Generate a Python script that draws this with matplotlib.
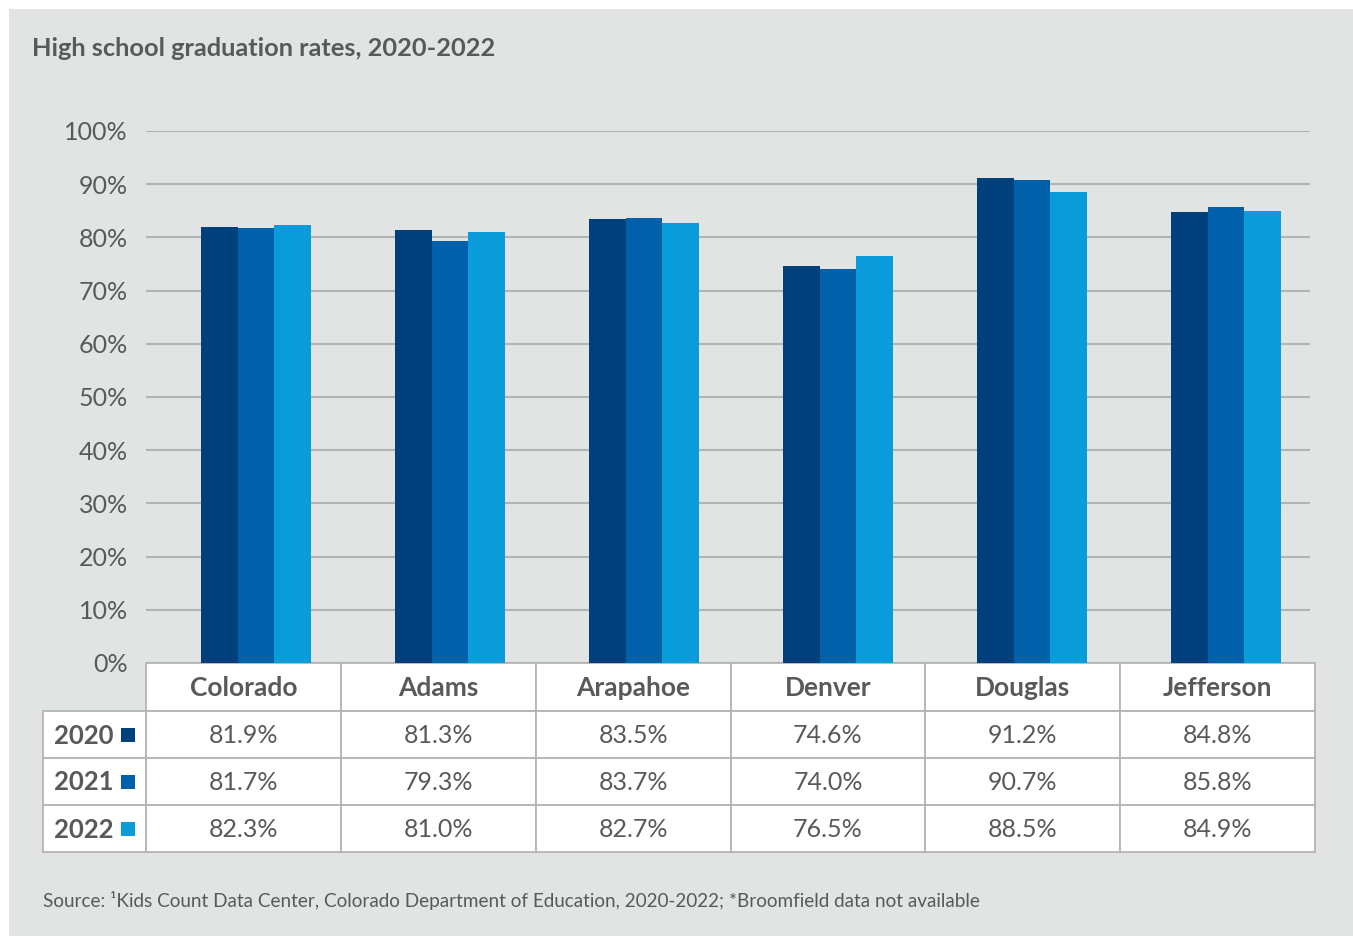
import numpy as np
import matplotlib.pyplot as plt
from matplotlib.patches import Rectangle

counties = ["Colorado", "Adams", "Arapahoe", "Denver", "Douglas", "Jefferson"]
years = ["2020", "2021", "2022"]
rate_2020 = [81.9, 81.3, 83.5, 74.6, 91.2, 84.8]
rate_2021 = [81.7, 79.3, 83.7, 74.0, 90.7, 85.8]
rate_2022 = [82.3, 81.0, 82.7, 76.5, 88.5, 84.9]
yticks = [0, 10, 20, 30, 40, 50, 60, 70, 80, 90, 100]

colors = ["#00407d", "#0060a9", "#0a9bdb"]
bg = "#e2e4e3"
txt = "#58595b"
line = "#b3b4b4"
plt.rcParams['font.family'] = ['Lato', 'DejaVu Sans']

W, H = 1353, 936
fig = plt.figure(figsize=(W / 100, H / 100), dpi=100)
fig.patch.set_facecolor("white")

# overlay axes in pixel coordinates for panel, table and texts
ov = fig.add_axes([0, 0, 1, 1])
ov.set_xlim(0, W)
ov.set_ylim(H, 0)
ov.axis("off")
ov.add_patch(Rectangle((9, 9), W - 9, H - 9, facecolor=bg, edgecolor="none", zorder=0))

ov.text(32, 48, "High school graduation rates, 2020-2022", fontsize=18.3, fontweight="bold",
        color=txt, va="center", ha="left")
ov.text(43, 901, "Source: \u00b9Kids Count Data Center, Colorado Department of Education, 2020-2022; "
        "*Broomfield data not available", fontsize=13.6, color=txt, va="center", ha="left")

# bar chart
ax = fig.add_axes([146 / W, (H - 663) / H, (1310 - 146) / W, (663 - 131) / H])
ax.set_facecolor("none")
x = np.arange(len(counties))
bw = 0.19
for i, vals in enumerate([rate_2020, rate_2021, rate_2022]):
    ax.bar(x + (i - 1) * bw, vals, bw, color=colors[i], zorder=3)
ax.set_xlim(-0.567, 5.433)
ax.set_ylim(0, 100)
ax.set_yticks(yticks)
ax.set_yticklabels([f"{t}%" for t in yticks], fontsize=18, color=txt)
ax.set_xticks([])
ax.tick_params(axis="y", length=0, pad=13)
ax.grid(axis="y", color=line, linewidth=1.5, zorder=0)
for s in ax.spines.values():
    s.set_visible(False)

# table
t_left, t_right, lab_left = 146, 1315, 43
t_top, head_h, row_h = 663, 48, 47
col_w = (t_right - t_left) / len(counties)
lw = 1.3
for j, name in enumerate(counties):
    cx = t_left + j * col_w
    ov.add_patch(Rectangle((cx, t_top), col_w, head_h, facecolor="white",
                           edgecolor=line, linewidth=lw, zorder=2))
    ov.text(cx + col_w / 2, t_top + head_h / 2 + 1, name, fontsize=19, fontweight="bold",
            color=txt, ha="center", va="center", zorder=4)

rows = [rate_2020, rate_2021, rate_2022]
for r, (yr, vals) in enumerate(zip(years, rows)):
    ry = t_top + head_h + r * row_h
    ov.add_patch(Rectangle((lab_left, ry), t_left - lab_left, row_h, facecolor="white",
                           edgecolor=line, linewidth=lw, zorder=2))
    ov.text(54, ry + row_h / 2 + 1, yr, fontsize=18.5, fontweight="bold", color=txt,
            ha="left", va="center", zorder=4)
    ov.add_patch(Rectangle((121, ry + row_h / 2 - 7), 14, 14, facecolor=colors[r],
                           edgecolor="none", zorder=4))
    for j, v in enumerate(vals):
        cx = t_left + j * col_w
        ov.add_patch(Rectangle((cx, ry), col_w, row_h, facecolor="white",
                               edgecolor=line, linewidth=lw, zorder=2))
        ov.text(cx + col_w / 2, ry + row_h / 2 + 1, f"{v:.1f}%", fontsize=18, color=txt,
                ha="center", va="center", zorder=4)

fig.savefig("out.png", dpi=100, facecolor=fig.get_facecolor())
